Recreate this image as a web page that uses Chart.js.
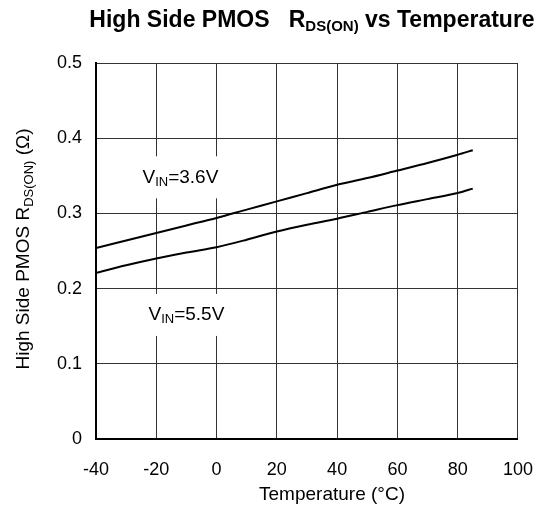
<!DOCTYPE html>
<html>
<head>
<meta charset="utf-8">
<script src="https://cdn.jsdelivr.net/npm/chart.js@4/dist/chart.umd.min.js"></script>
<style>
html,body{margin:0;padding:0;background:#fff;}
#wrap{width:553px;height:510px;position:relative;}
</style>
</head>
<body>
<div id="wrap"><canvas id="c" width="553" height="510"></canvas></div>
<script>
const temperatures = [-40, -30, -20, -10, 0, 10, 20, 30, 40, 50, 60, 70, 80, 85];
const rdsVin36 = [0.254, 0.264, 0.274, 0.284, 0.294, 0.305, 0.316, 0.327, 0.338, 0.347, 0.357, 0.367, 0.378, 0.384];
const rdsVin55 = [0.221, 0.231, 0.240, 0.248, 0.255, 0.265, 0.276, 0.285, 0.293, 0.302, 0.311, 0.319, 0.327, 0.333];
const xTicks = [-40, -20, 0, 20, 40, 60, 80, 100];
const yTicks = [0, 0.1, 0.2, 0.3, 0.4, 0.5];
const seriesLabels = ['3.6V', '5.5V'];

const FONT = 'Arial, "Liberation Sans", sans-serif';

function toPts(vals){ return temperatures.map((t,i)=>({x:t, y:vals[i]})); }

function measureParts(ctx, parts){
  let total = 0;
  parts.forEach(p=>{ ctx.font = (p.bold?'bold ':'') + p.size + 'px ' + FONT; p.w = ctx.measureText(p.t).width; total += p.w; });
  return total;
}
function drawSub(ctx, parts, x, y, align){
  const total = measureParts(ctx, parts);
  let cx = align==='center' ? x - total/2 : (align==='right' ? x - total : x);
  parts.forEach(p=>{
    ctx.font = (p.bold?'bold ':'') + p.size + 'px ' + FONT;
    ctx.textAlign = 'left';
    ctx.fillText(p.t, cx, y + (p.dy||0));
    cx += p.w;
  });
  return total;
}

const annot = {
  id: 'annot',
  beforeDatasetsDraw(chart){
    const ctx = chart.ctx;
    const xs = chart.scales.x, ys = chart.scales.y;
    ctx.save();
    ctx.textBaseline = 'middle';
    const labels = [
      {x:-12, y:0.348, v:seriesLabels[0]},
      {x:-10, y:0.165, v:seriesLabels[1]}
    ];
    labels.forEach(l=>{
      const px = xs.getPixelForValue(l.x), py = ys.getPixelForValue(l.y);
      const parts = [{t:'V',size:19},{t:'IN',size:13,dy:5},{t:'='+l.v,size:19}];
      const w = measureParts(ctx, parts);
      ctx.fillStyle = '#fff';
      ctx.fillRect(px - w/2 - 3, py - 21, w + 6, 42);
      ctx.fillStyle = '#000';
      drawSub(ctx, parts, px, py, 'center');
    });
    ctx.restore();
  },
  afterDraw(chart){
    const ctx = chart.ctx;
    ctx.save();
    ctx.fillStyle = '#000';
    ctx.textBaseline = 'middle';
    // title
    drawSub(ctx, [
      {t:'High Side PMOS   R', size:23, bold:true},
      {t:'DS(ON)', size:15, bold:true, dy:6},
      {t:' vs Temperature', size:23, bold:true}
    ], 312, 21, 'center');
    // x title
    ctx.font = '19px ' + FONT;
    ctx.textAlign = 'center';
    ctx.fillText('Temperature (\u00B0C)', 332, 495);
    // y title
    ctx.translate(24, 249);
    ctx.rotate(-Math.PI/2);
    drawSub(ctx, [
      {t:'High Side PMOS R', size:19},
      {t:'DS(ON)', size:13, dy:5},
      {t:' (\u03A9)', size:19}
    ], 0, 0, 'center');
    ctx.restore();
  }
};

new Chart(document.getElementById('c'), {
  type: 'line',
  data: {
    datasets: [
      {label:'VIN=3.6V', data: toPts(rdsVin36), borderColor:'#000', borderWidth:2, pointRadius:0, tension:0.3, fill:false},
      {label:'VIN=5.5V', data: toPts(rdsVin55), borderColor:'#000', borderWidth:2, pointRadius:0, tension:0.3, fill:false}
    ]
  },
  options: {
    responsive: false,
    animation: false,
    devicePixelRatio: 1,
    layout: {padding: {left:0, right:35, top:63, bottom:0}},
    plugins: {legend:{display:false}, tooltip:{enabled:false}, title:{display:false}},
    scales: {
      x: {
        type:'linear', min:-40, max:100,
        afterBuildTicks(s){ s.ticks = xTicks.map(v=>({value:v})); },
        afterFit(s){ s.height = 71; },
        ticks:{color:'#000', font:{size:18, family:FONT}, padding:20, maxRotation:0},
        grid:{color:'#333', lineWidth:1, drawTicks:false},
        border:{color:'#000', width:2}
      },
      y: {
        type:'linear', min:0, max:0.5,
        afterBuildTicks(s){ s.ticks = yTicks.map(v=>({value:v})); },
        afterFit(s){ s.width = 96; },
        ticks:{color:'#000', font:{size:18, family:FONT}, padding:14, callback:v=>String(v)},
        grid:{color:'#333', lineWidth:1, drawTicks:false},
        border:{color:'#000', width:2}
      }
    }
  },
  plugins:[annot]
});
</script>
</body>
</html>
